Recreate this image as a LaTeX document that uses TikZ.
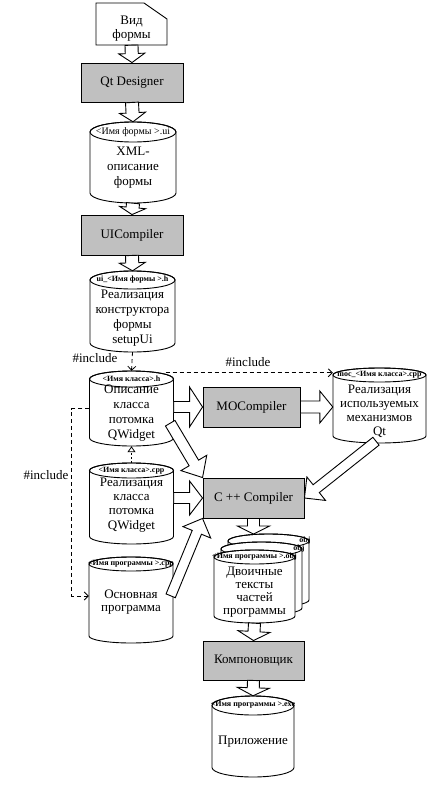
\documentclass[tikz,border=0pt]{standalone}
\usepackage{fontspec}
\setmainfont{Liberation Serif}
\usetikzlibrary{calc,arrows.meta}
\definecolor{boxgray}{RGB}{192,192,192}
\tikzset{
  txt/.style={font=\fontsize{13}{15}\selectfont, inner sep=0pt, align=center},
  lbl/.style={font=\fontsize{8}{8}\selectfont\bfseries, inner sep=0pt},
  proc/.style={draw, fill=boxgray, line width=0.9pt, font=\fontsize{13}{15}\selectfont, inner sep=0pt},
  outline/.style={draw, fill=white, line width=0.9pt},
  barrow/.style={draw, fill=white, line width=0.9pt, line join=miter},
  dep/.style={line width=0.8pt, dash pattern=on 4pt off 3pt, -{Straight Barb[length=4pt,width=8pt]}},
  dept/.style={line width=0.8pt, dash pattern=on 2pt off 2pt, -{Triangle[open,length=6pt,width=8pt]}},
}
% cylinder: name, cx, ytop, ybottom, half width, ellipse y radius
\newcommand\cylshape[6]{%
  \path[outline] (#2-#5,#3+#6) -- (#2-#5,#4-#6)
     arc[start angle=180,end angle=360,x radius=#5pt,y radius=#6pt]
     -- (#2+#5,#3+#6)
     arc[start angle=0,end angle=180,x radius=#5pt,y radius=#6pt] -- cycle;
  \draw[line width=0.9pt] (#2,#3+#6) ellipse[x radius=#5pt, y radius=#6pt];
  \node[inner sep=0pt, minimum width={2*#5*1pt}, minimum height={(#4-#3)*1pt}] (#1) at (#2,{(#3+#4)/2}) {};
}
% block arrow: from, to, shaft half width, head half width, head length
\newcommand\blockarrow[5]{%
  \coordinate (ba-p) at ($(#2)!#5pt!(#1)$);
  \path[barrow] ($(#1)!#3pt!90:(#2)$) -- ($(ba-p)!#3pt!90:(#2)$) -- ($(ba-p)!#4pt!90:(#2)$)
     -- (#2) -- ($(ba-p)!#4pt!-90:(#2)$) -- ($(ba-p)!#3pt!-90:(#2)$) -- ($(#1)!#3pt!-90:(#2)$) -- cycle;
}
\begin{document}
\begin{tikzpicture}[x=1pt,y=-1pt]
\fill[white] (0,0) rectangle (438,797);
\useasboundingbox (0,0) rectangle (438,797);

% form view document
\draw[outline] (96,3) -- (144,3) -- (167,19) -- (167,45) -- (96,45) -- cycle;
\node[inner sep=0pt, minimum width=71pt, minimum height=42pt] (doc) at (131.5,24) {};
\node[txt, font=\fontsize{13}{14}\selectfont] (doctxt) at (131.5,29) {Вид\\формы};

% process boxes
\node[proc, minimum width=102pt, minimum height=39pt] (qt) at (132,82.5) {Qt Designer};
\node[proc, minimum width=102pt, minimum height=40pt] (uic) at (132,235) {UICompiler};
\node[proc, minimum width=97pt, minimum height=40pt] (mocc) at (251.5,407) {MOCompiler};
\node[proc, minimum width=101pt, minimum height=40pt] (cpp) at (253.5,498) {C ++ Compiler};
\node[proc, minimum width=101pt, minimum height=39pt] (komp) at (253.5,660.5) {Компоновщик};

% cylinders
\cylshape{xml}{133}{122}{203}{43}{10}
\node[lbl, font=\fontsize{10}{10}\selectfont] (xmllbl) at (133,132) {<Имя формы >.ui};
\node[txt] (xmltxt) at (133,168) {XML-\\описание\\формы};

\cylshape{ui}{132.5}{271}{352}{42.5}{9}
\node[lbl] (uilbl) at (132.5,280) {ui\_<Имя формы >.h};
\node[txt] (uitxt) at (132.5,318) {Реализация\\конструктора\\формы\\setupUi};

\cylshape{desc}{131.5}{371}{446}{42}{8}
\node[lbl] (desclbl) at (131.5,379) {<Имя класса>.h};
\node[txt] (desctxt) at (131.5,413) {Описание\\класса\\потомка\\QWidget};

\cylshape{impl}{131.5}{463}{544}{42}{7.5}
\node[lbl] (impllbl) at (131.5,470.5) {<Имя класса>.cpp};
\node[txt, font=\fontsize{13}{14.2}\selectfont] (impltxt) at (131.5,505) {Реализация\\класса\\потомка\\QWidget};

\cylshape{main}{131}{557}{643}{42}{7}
\node[lbl] (mainlbl) at (131,564) {<Имя программы >.cpp};
\node[txt, font=\fontsize{13}{13.5}\selectfont] (maintxt) at (131,602) {Основная\\программа};

\cylshape{moc}{379.5}{368}{443}{46.5}{7}
\node[lbl] (moclbl) at (379.5,375) {moc\_<Имя класса>.cpp};
\node[txt, font=\fontsize{13}{14}\selectfont] (moctxt) at (379.5,411) {Реализация\\используемых\\механизмов\\Qt};

\cylshape{objc}{268.5}{534}{607}{40.5}{7}
\cylshape{objb}{261.5}{542}{615}{40.5}{7}
\node[lbl] (objclbl) at (305,541) {obj};
\node[lbl] (objblbl) at (299,549) {obj};
\cylshape{obj}{254.5}{550}{623}{40.5}{7}
\node[lbl] (objlbl) at (254.5,557) {<Имя программы >.obj};
\node[txt, font=\fontsize{13}{13}\selectfont] (objtxt) at (254.5,592) {Двоичные\\тексты\\частей\\программы};

\cylshape{app}{253}{696}{777}{41}{9.5}
\node[lbl] (applbl) at (253,705) {<Имя программы >.exe};
\node[txt] (apptxt) at (253,742) {Приложение};

% #include dependencies
\node[txt] (inc1) at (95,358) {\#include};
\draw[dep] (ui.south) -- (desc.north);
\node[txt] (inc2) at (248,362) {\#include};
\draw[dep] ($(desc.north east)+(-8,2)$) -- ($(moc.north west)+(0,5)$);
\node[txt] (inc3) at (46,475) {\#include};
\draw[dep] (desc.west) -- ++(-17.5,0) |- ($(main.west)+(0,-4)$);
\draw[dept] (impl.north) -- (desc.south);

% block arrows
\blockarrow{doc.south}{qt.north}{6.5}{13}{9}
\blockarrow{qt.south}{xml.north}{6.5}{13}{9}
\blockarrow{xml.south}{uic.north}{6.5}{13}{7}
\blockarrow{uic.south}{ui.north}{6.5}{13}{8}
\blockarrow{desc.east |- mocc.west}{mocc.west}{5.5}{20}{13}
\blockarrow{mocc.east}{moc.west |- mocc.east}{6}{16}{13}
\blockarrow{impl.east |- cpp.west}{cpp.west}{5.5}{17}{13}
\coordinate (descout) at ($(desc.south east)+(-3.5,-23)$);
\blockarrow{descout}{cpp.north west}{5.5}{15}{17}
\coordinate (mainout) at ($(main.north east)+(-2.5,39)$);
\blockarrow{mainout}{cpp.south west}{5}{15}{15}
\coordinate (mocout) at ($(moc.south)+(-3.5,-2)$);
\blockarrow{mocout}{cpp.east}{5}{15}{15}
\coordinate (objtip) at (253.5,534);
\blockarrow{cpp.south}{objtip}{6}{16}{8}
\blockarrow{obj.south}{komp.north}{6}{16}{9}
\blockarrow{komp.south}{app.north}{6}{16}{8}
\end{tikzpicture}
\end{document}
